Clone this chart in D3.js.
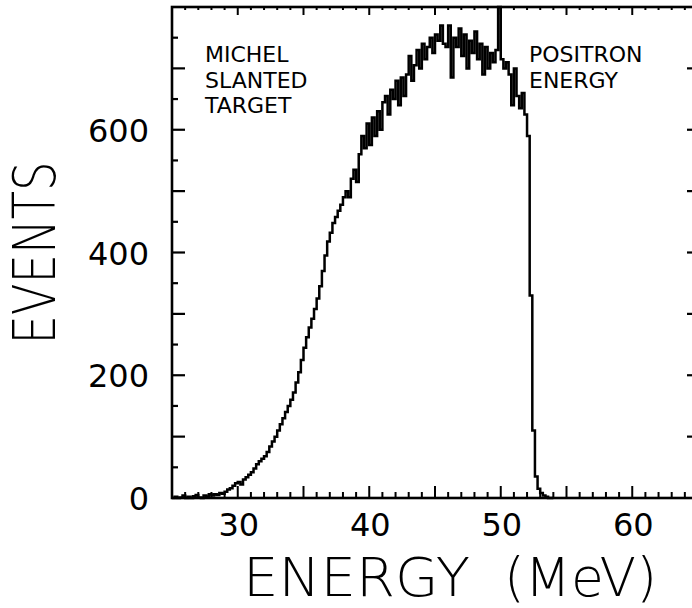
<!DOCTYPE html>
<html><head><meta charset="utf-8">
<script src="https://cdn.jsdelivr.net/npm/d3@7"></script>
<style>body{margin:0;background:#fff} svg{display:block}</style>
</head><body>
<script>
// ---- data ----
const binStart = 25.0;   // MeV, first bin lower edge
const binWidth = 0.2;    // MeV
const counts = [
  0,2,0,1,4,0,2,0,3,5,1,0,4,2,6,            // 25.0-27.8
  4,6,5,8,7,10,14,16,20,24,                  // 28.0-29.8
  26,22,30,34,38,42,48,55,60,64,             // 30.0-31.8
  68,75,84,92,100,110,120,130,140,150,       // 32.0-33.8
  160,172,188,205,225,245,262,278,292,308,   // 34.0-35.8
  325,345,370,395,418,432,448,458,468,478,   // 36.0-37.8
  490,500,490,520,535,515,560,590,570,610,   // 38.0-39.8
  575,620,590,630,600,645,655,625,665,650,   // 40.0-41.8
  680,640,685,655,690,720,680,705,730,700,   // 42.0-43.8
  740,715,735,750,725,755,745,770,740,735,   // 44.0-45.8
  770,685,750,735,765,720,755,700,745,725,   // 46.0-47.8
  760,715,740,690,735,700,725,710,730,800,   // 48.0-49.8
  715,700,710,690,640,700,655,635,660,625,   // 50.0-51.8
  590,330,110,35,15,8,4,2,0,0                // 52.0-53.8
];
const xTickLabels = [30, 40, 50, 60];
const yTickLabels = [0, 200, 400, 600];
const leftNote = ["MICHEL", "SLANTED", "TARGET"];
const rightNote = ["POSITRON", "ENERGY"];
const xTitle = ["ENERGY", "(MeV)"];
const yTitle = "EVENTS";

// ---- layout ----
const W = 692, H = 608;
const svg = d3.select("body").append("svg").attr("width", W).attr("height", H);
const x = d3.scaleLinear().domain([25, 65]).range([172, 698]);
const y = d3.scaleLinear().domain([0, 800]).range([498, 7]);
const [x0, x1] = x.range(), [yb, yt] = y.range();

const g = svg.append("g").attr("stroke", "#000").attr("fill", "none");

// frame
g.append("rect").attr("x", x0).attr("y", yt).attr("width", x1 - x0).attr("height", yb - yt)
  .attr("stroke-width", 2.6);

// bottom ticks (pointing up)
const xMinor = d3.range(26, 65, 1);
g.selectAll(".bt").data(xMinor).join("line")
  .attr("x1", d => x(d)).attr("x2", d => x(d))
  .attr("y1", yb).attr("y2", d => yb - (d % 5 === 0 ? 12 : 6))
  .attr("stroke-width", 2);
// top ticks (pointing down)
g.selectAll(".tt").data(xMinor).join("line")
  .attr("x1", d => x(d)).attr("x2", d => x(d))
  .attr("y1", yt).attr("y2", d => yt + (d % 5 === 0 ? 8 : 3))
  .attr("stroke-width", 2);
// left ticks
const yMinor = d3.range(50, 800, 50);
g.selectAll(".lt").data(yMinor).join("line")
  .attr("x1", x0).attr("x2", d => x0 + (d % 100 === 0 ? 13 : 6))
  .attr("y1", d => y(d)).attr("y2", d => y(d))
  .attr("stroke-width", 2.2);
// right ticks
g.selectAll(".rt").data(yMinor).join("line")
  .attr("x1", x1).attr("x2", d => x1 - (d % 100 === 0 ? 11 : 6))
  .attr("y1", d => y(d)).attr("y2", d => y(d))
  .attr("stroke-width", 2.2);

// histogram
const pts = counts.map((c, i) => [binStart + i * binWidth, c]);
pts.push([binStart + counts.length * binWidth, counts[counts.length - 1]]);
const line = d3.line().x(d => x(d[0])).y(d => y(d[1])).curve(d3.curveStepAfter);
g.append("path").attr("d", line(pts)).attr("stroke-width", 2.5)
  .attr("stroke-linejoin", "miter");

// tick labels
const lab = svg.append("g").attr("font-family", "DejaVu Sans").attr("font-size", 32).attr("fill", "#000");
lab.selectAll(".xl").data(xTickLabels).join("text")
  .attr("x", d => x(d) + 1).attr("y", 536).attr("text-anchor", "middle").text(d => d);
lab.selectAll(".yl").data(yTickLabels).join("text")
  .attr("x", 149).attr("y", d => y(d) + 12).attr("text-anchor", "end").text(d => d);

// annotations
const note = svg.append("g").attr("font-family", "DejaVu Sans").attr("font-size", 22).attr("fill", "#000");
note.selectAll(".ln").data(leftNote).join("text")
  .attr("x", 205).attr("y", (d, i) => 62 + i * 25.5).text(d => d);
note.selectAll(".rn").data(rightNote).join("text")
  .attr("x", 529).attr("y", (d, i) => 62 + i * 26).text(d => d);

// axis titles
const tg = svg.append("g").attr("font-family", "DejaVu Sans").attr("font-weight", 200)
  .attr("font-size", 54).attr("fill", "#000");
tg.append("text").attr("x", 243).attr("y", 596)
  .attr("textLength", 227).attr("lengthAdjust", "spacingAndGlyphs").text(xTitle[0]);
tg.append("text").attr("x", 504).attr("y", 596)
  .attr("textLength", 153).attr("lengthAdjust", "spacingAndGlyphs").text(xTitle[1]);
tg.append("text").attr("font-size", 58).attr("text-anchor", "middle")
  .attr("transform", "translate(55,253) rotate(-90)")
  .attr("textLength", 183).attr("lengthAdjust", "spacingAndGlyphs")
  .text(yTitle);
</script>
</body></html>
